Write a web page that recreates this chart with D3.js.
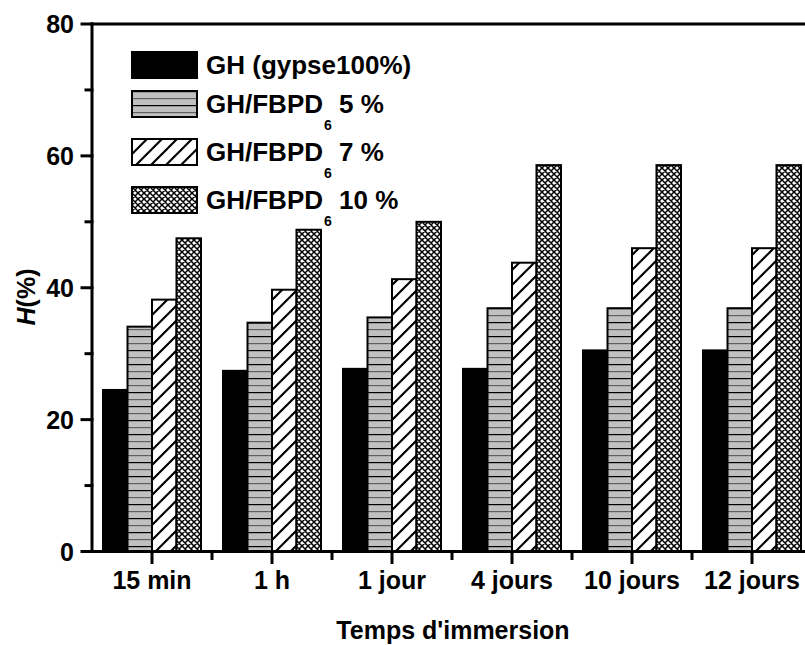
<!DOCTYPE html>
<html>
<head>
<meta charset="utf-8">
<script src="https://cdn.jsdelivr.net/npm/d3@7"></script>
<style>
  body { margin: 0; background: #fff; }
  text { font-family: "Liberation Sans", Arial, sans-serif; font-weight: bold; fill: #000; }
</style>
</head>
<body>
<div id="container"></div>
<script>
// ==============
//	DATA
// ==============
var categories = ["15 min", "1 h", "1 jour", "4 jours", "10 jours", "12 jours"];
var seriesKeys = ["gh", "fb5", "fb7", "fb10"];
var valuesGH   = [24.5, 27.4, 27.7, 27.7, 30.5, 30.5];
var values5    = [34.1, 34.7, 35.5, 36.9, 36.9, 36.9];
var values7    = [38.2, 39.7, 41.3, 43.8, 46.0, 46.0];
var values10   = [47.5, 48.8, 50.0, 58.6, 58.6, 58.6];
var yTicks = [0, 20, 40, 60, 80];

// ==============
//	OPTIONS
// ==============
var W = 805, H = 645;
var plot = {left: 92, right: 812, top: 24, bottom: 551.5};

var svg = d3.select("#container").append("svg")
	.attr("width", W)
	.attr("height", H);

var x = d3.scaleBand()
	.domain(categories)
	.range([plot.left, plot.right])
	.padding(0);

var xSub = d3.scaleBand()
	.domain(seriesKeys)
	.range([0, x.bandwidth()])
	.paddingInner(0)
	.paddingOuter(0.45);

var y = d3.scaleLinear()
	.domain([0, 80])
	.range([plot.bottom, plot.top]);

// === patterns
var defs = svg.append("defs");

var pGray = defs.append("pattern")
	.attr("id", "pat-gray")
	.attr("patternUnits", "userSpaceOnUse")
	.attr("width", 10).attr("height", 14);
pGray.append("rect").attr("width", 10).attr("height", 14).attr("fill", "#c0c0c0");
pGray.append("rect").attr("y", 0).attr("width", 10).attr("height", 1.2).attr("fill", "#000");
pGray.append("rect").attr("y", 7).attr("width", 10).attr("height", 1.2).attr("fill", "#606060");

var pHatch = defs.append("pattern")
	.attr("id", "pat-hatch")
	.attr("patternUnits", "userSpaceOnUse")
	.attr("width", 15).attr("height", 15);
pHatch.append("rect").attr("width", 15).attr("height", 15).attr("fill", "#fff");
pHatch.append("path")
	.attr("d", "M0,15 L15,0 M-2,2 L2,-2 M13,17 L17,13")
	.attr("stroke", "#000").attr("stroke-width", 2.2);

var pCross = defs.append("pattern")
	.attr("id", "pat-cross")
	.attr("patternUnits", "userSpaceOnUse")
	.attr("width", 6).attr("height", 6);
pCross.append("rect").attr("width", 6).attr("height", 6).attr("fill", "#fff");
pCross.append("path")
	.attr("d", "M0,0 L6,6 M6,0 L0,6 M-1,5 L1,7 M5,-1 L7,1 M-1,1 L1,-1 M5,7 L7,5")
	.attr("stroke", "#000").attr("stroke-width", 1.5);

var fills = {gh: "#000", fb5: "url(#pat-gray)", fb7: "url(#pat-hatch)", fb10: "url(#pat-cross)"};
var seriesValues = {gh: valuesGH, fb5: values5, fb7: values7, fb10: values10};

// ==============
//	BARS
// ==============
var rows = categories.map(function(c, i) {
	return {cat: c, bars: seriesKeys.map(k => ({key: k, value: seriesValues[k][i]}))};
});

var group = svg.append("g")
	.selectAll("g")
	.data(rows)
	.join("g")
	.attr("transform", d => "translate(" + x(d.cat) + ",0)");

group.selectAll("rect")
	.data(d => d.bars)
	.join("rect")
	.attr("x", d => xSub(d.key))
	.attr("y", d => y(d.value))
	.attr("width", xSub.bandwidth())
	.attr("height", d => y(0) - y(d.value))
	.attr("fill", d => fills[d.key])
	.attr("stroke", "#000")
	.attr("stroke-width", 2);

// ==============
//	AXES
// ==============
var axes = svg.append("g").attr("stroke", "#000").attr("stroke-linecap", "square");

// frame lines
axes.append("line").attr("x1", plot.left).attr("x2", plot.right + 10).attr("y1", plot.top).attr("y2", plot.top).attr("stroke-width", 3);
axes.append("line").attr("x1", plot.left).attr("x2", plot.right + 10).attr("y1", plot.bottom).attr("y2", plot.bottom).attr("stroke-width", 3);
axes.append("line").attr("x1", plot.left).attr("x2", plot.left).attr("y1", plot.top).attr("y2", plot.bottom).attr("stroke-width", 3);

// y ticks (major + minor)
axes.selectAll(".ymaj").data(yTicks).join("line")
	.attr("class", "ymaj")
	.attr("x1", plot.left - 10).attr("x2", plot.left)
	.attr("y1", d => y(d)).attr("y2", d => y(d))
	.attr("stroke-width", 3);
axes.selectAll(".ymin").data(yTicks.slice(0, -1).map(d => d + 10)).join("line")
	.attr("class", "ymin")
	.attr("x1", plot.left - 6).attr("x2", plot.left)
	.attr("y1", d => y(d)).attr("y2", d => y(d))
	.attr("stroke-width", 3);

// x ticks (major at centre, minor between)
axes.selectAll(".xmaj").data(categories).join("line")
	.attr("class", "xmaj")
	.attr("x1", d => x(d) + x.bandwidth() / 2).attr("x2", d => x(d) + x.bandwidth() / 2)
	.attr("y1", plot.bottom).attr("y2", plot.bottom + 11)
	.attr("stroke-width", 3);
axes.selectAll(".xmin").data(categories.slice(1)).join("line")
	.attr("class", "xmin")
	.attr("x1", d => x(d)).attr("x2", d => x(d))
	.attr("y1", plot.bottom).attr("y2", plot.bottom + 7)
	.attr("stroke-width", 3);

// tick labels
svg.append("g")
	.style("font-size", "25px")
	.selectAll("text").data(yTicks).join("text")
	.attr("x", 74)
	.attr("y", d => y(d))
	.attr("dy", "0.36em")
	.attr("text-anchor", "end")
	.text(d => d);

svg.append("g")
	.style("font-size", "25px")
	.selectAll("text").data(categories).join("text")
	.attr("x", d => x(d) + x.bandwidth() / 2)
	.attr("y", 589)
	.attr("text-anchor", "middle")
	.text(d => d);

// axis titles
svg.append("text")
	.attr("x", 453).attr("y", 639)
	.attr("text-anchor", "middle")
	.style("font-size", "25px")
	.text("Temps d'immersion");

var yl = svg.append("text")
	.attr("transform", "translate(35,297) rotate(-90)")
	.attr("text-anchor", "middle")
	.style("font-size", "25px");
yl.append("tspan").style("font-style", "italic").text("H");
yl.append("tspan").text("(%)");

// ==============
//	LEGEND
// ==============
var legendItems = [
	{key: "gh", y: 52, label: "GH (gypse100%)", sub: null, rest: null},
	{key: "fb5", y: 91, label: "GH/FBPD", sub: "6", rest: " 5 %"},
	{key: "fb7", y: 139, label: "GH/FBPD", sub: "6", rest: " 7 %"},
	{key: "fb10", y: 187, label: "GH/FBPD", sub: "6", rest: " 10 %"}
];

var leg = svg.append("g").selectAll("g").data(legendItems).join("g")
	.attr("transform", d => "translate(132," + d.y + ")");

leg.append("rect")
	.attr("width", 65).attr("height", 26)
	.attr("fill", d => fills[d.key])
	.attr("stroke", "#000").attr("stroke-width", 2);

var lt = leg.append("text")
	.attr("x", 74).attr("y", 13)
	.attr("dy", "0.36em")
	.style("font-size", "26px");
lt.append("tspan").text(d => d.label);
lt.filter(d => d.sub).append("tspan")
	.attr("dx", 1).attr("dy", 17)
	.style("font-size", "14px")
	.text(d => d.sub);
lt.filter(d => d.rest).append("tspan")
	.attr("dy", -17)
	.text(d => d.rest);
</script>
</body>
</html>
